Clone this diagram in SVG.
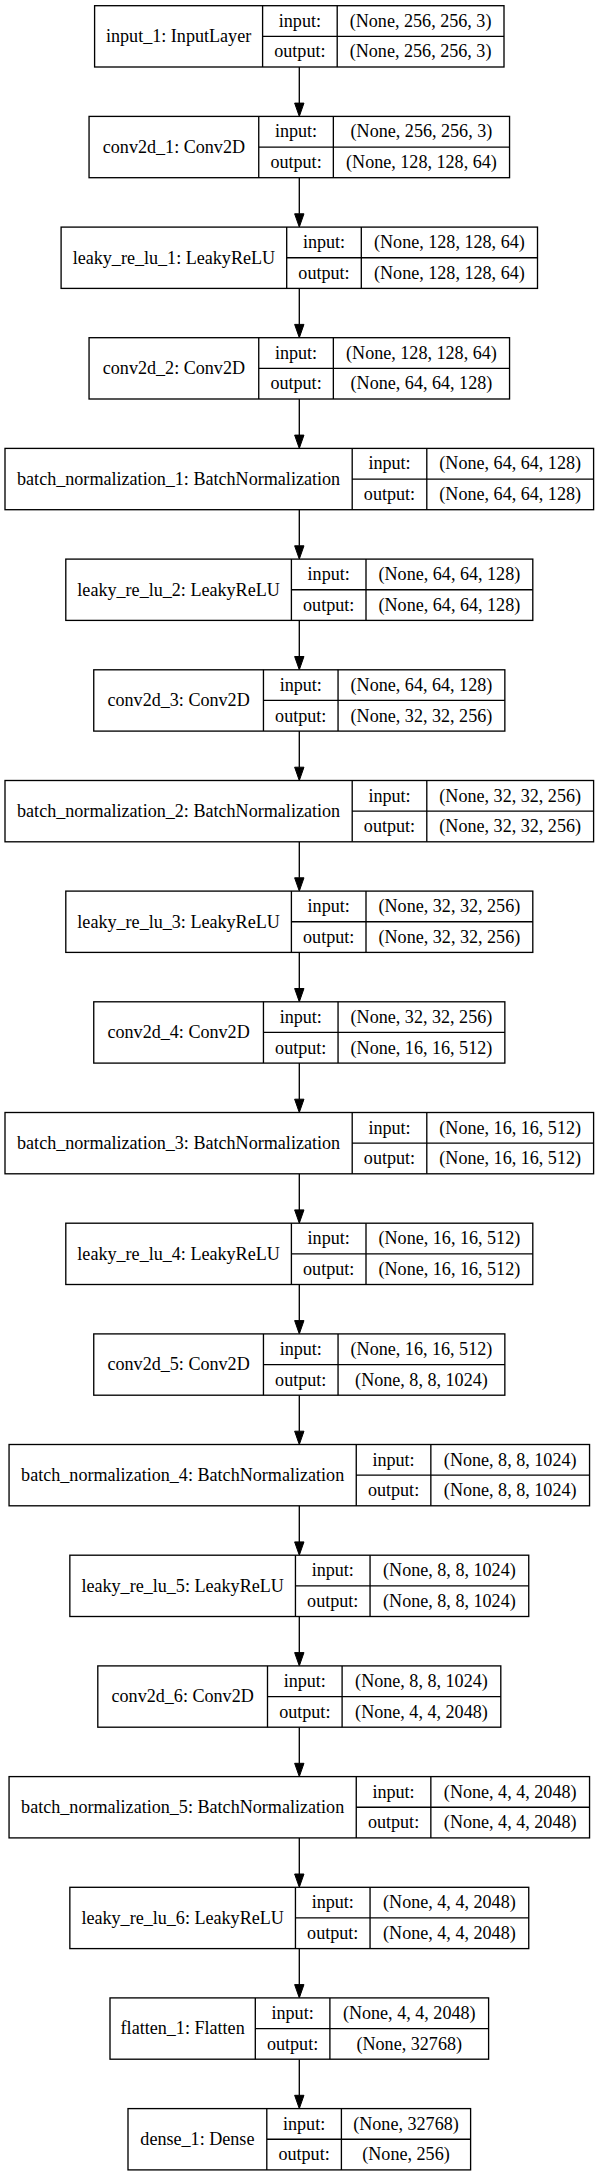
<svg xmlns="http://www.w3.org/2000/svg" width="599" height="2176" viewBox="0 0 599 2176">
<style>
.b{fill:#fff;stroke:#000;stroke-width:1.33}
.d{stroke:#000;stroke-width:1.33;fill:none}
text{font-family:"Liberation Serif","Times New Roman",serif;font-size:18.1px;fill:#000;text-anchor:middle}
.e{stroke:#000;stroke-width:1.33;fill:none;marker-end:url(#ah)}
</style>
<defs>
<marker id="ah" markerUnits="userSpaceOnUse" markerWidth="14" markerHeight="10" refX="0" refY="4.67" orient="auto" overflow="visible">
<path d="M0,0 L13.3,4.67 L0,9.33 Z" fill="#000" stroke="#000" stroke-width="1"/>
</marker>
</defs>
<rect width="599" height="2176" fill="#fff"/>
<g id="connectors">
<line class="e" x1="299.3" y1="67" x2="299.3" y2="103.1"/>
<line class="e" x1="299.3" y1="177.7" x2="299.3" y2="213.8"/>
<line class="e" x1="299.3" y1="288.4" x2="299.3" y2="324.4"/>
<line class="e" x1="299.3" y1="399" x2="299.3" y2="435.1"/>
<line class="e" x1="299.3" y1="509.7" x2="299.3" y2="545.8"/>
<line class="e" x1="299.3" y1="620.4" x2="299.3" y2="656.5"/>
<line class="e" x1="299.3" y1="731.1" x2="299.3" y2="767.2"/>
<line class="e" x1="299.3" y1="841.8" x2="299.3" y2="877.8"/>
<line class="e" x1="299.3" y1="952.4" x2="299.3" y2="988.5"/>
<line class="e" x1="299.3" y1="1063.1" x2="299.3" y2="1099.2"/>
<line class="e" x1="299.3" y1="1173.8" x2="299.3" y2="1209.9"/>
<line class="e" x1="299.3" y1="1284.5" x2="299.3" y2="1320.6"/>
<line class="e" x1="299.3" y1="1395.2" x2="299.3" y2="1431.2"/>
<line class="e" x1="299.3" y1="1505.8" x2="299.3" y2="1541.9"/>
<line class="e" x1="299.3" y1="1616.5" x2="299.3" y2="1652.6"/>
<line class="e" x1="299.3" y1="1727.2" x2="299.3" y2="1763.3"/>
<line class="e" x1="299.3" y1="1837.9" x2="299.3" y2="1874"/>
<line class="e" x1="299.3" y1="1948.6" x2="299.3" y2="1984.6"/>
<line class="e" x1="299.3" y1="2059.2" x2="299.3" y2="2095.3"/>
</g>

<g id="input_1" transform="translate(0,5.7)">
<rect class="b" x="94.6" y="0" width="409.4" height="61.3"/>
<path class="d" d="M262.6,0V61.3M337.2,0V61.3M262.6,30.65H504"/>
<text x="178.6" y="36.5">input_1: InputLayer</text>
<text x="299.9" y="21.1">input:</text><text x="299.9" y="51.8">output:</text>
<text x="420.6" y="21.1">(None, 256, 256, 3)</text><text x="420.6" y="51.8">(None, 256, 256, 3)</text>
</g>

<g id="conv2d_1" transform="translate(0,116.4)">
<rect class="b" x="89.05" y="0" width="420.5" height="61.3"/>
<path class="d" d="M258.75,0V61.3M333.35,0V61.3M258.75,30.65H509.55"/>
<text x="173.9" y="36.5">conv2d_1: Conv2D</text>
<text x="296.05" y="21.1">input:</text><text x="296.05" y="51.8">output:</text>
<text x="421.45" y="21.1">(None, 256, 256, 3)</text><text x="421.45" y="51.8">(None, 128, 128, 64)</text>
</g>

<g id="leaky_re_lu_1" transform="translate(0,227.1)">
<rect class="b" x="61.1" y="0" width="476.4" height="61.3"/>
<path class="d" d="M286.7,0V61.3M361.3,0V61.3M286.7,30.65H537.5"/>
<text x="173.9" y="36.5">leaky_re_lu_1: LeakyReLU</text>
<text x="324" y="21.1">input:</text><text x="324" y="51.8">output:</text>
<text x="449.4" y="21.1">(None, 128, 128, 64)</text><text x="449.4" y="51.8">(None, 128, 128, 64)</text>
</g>

<g id="conv2d_2" transform="translate(0,337.7)">
<rect class="b" x="89.05" y="0" width="420.5" height="61.3"/>
<path class="d" d="M258.75,0V61.3M333.35,0V61.3M258.75,30.65H509.55"/>
<text x="173.9" y="36.5">conv2d_2: Conv2D</text>
<text x="296.05" y="21.1">input:</text><text x="296.05" y="51.8">output:</text>
<text x="421.45" y="21.1">(None, 128, 128, 64)</text><text x="421.45" y="51.8">(None, 64, 64, 128)</text>
</g>

<g id="batch_normalization_1" transform="translate(0,448.4)">
<rect class="b" x="5" y="0" width="588.6" height="61.3"/>
<path class="d" d="M352.2,0V61.3M426.8,0V61.3M352.2,30.65H593.6"/>
<text x="178.6" y="36.5">batch_normalization_1: BatchNormalization</text>
<text x="389.5" y="21.1">input:</text><text x="389.5" y="51.8">output:</text>
<text x="510.2" y="21.1">(None, 64, 64, 128)</text><text x="510.2" y="51.8">(None, 64, 64, 128)</text>
</g>

<g id="leaky_re_lu_2" transform="translate(0,559.1)">
<rect class="b" x="65.8" y="0" width="467" height="61.3"/>
<path class="d" d="M291.4,0V61.3M366,0V61.3M291.4,30.65H532.8"/>
<text x="178.6" y="36.5">leaky_re_lu_2: LeakyReLU</text>
<text x="328.7" y="21.1">input:</text><text x="328.7" y="51.8">output:</text>
<text x="449.4" y="21.1">(None, 64, 64, 128)</text><text x="449.4" y="51.8">(None, 64, 64, 128)</text>
</g>

<g id="conv2d_3" transform="translate(0,669.8)">
<rect class="b" x="93.75" y="0" width="411.1" height="61.3"/>
<path class="d" d="M263.45,0V61.3M338.05,0V61.3M263.45,30.65H504.85"/>
<text x="178.6" y="36.5">conv2d_3: Conv2D</text>
<text x="300.75" y="21.1">input:</text><text x="300.75" y="51.8">output:</text>
<text x="421.45" y="21.1">(None, 64, 64, 128)</text><text x="421.45" y="51.8">(None, 32, 32, 256)</text>
</g>

<g id="batch_normalization_2" transform="translate(0,780.5)">
<rect class="b" x="5" y="0" width="588.6" height="61.3"/>
<path class="d" d="M352.2,0V61.3M426.8,0V61.3M352.2,30.65H593.6"/>
<text x="178.6" y="36.5">batch_normalization_2: BatchNormalization</text>
<text x="389.5" y="21.1">input:</text><text x="389.5" y="51.8">output:</text>
<text x="510.2" y="21.1">(None, 32, 32, 256)</text><text x="510.2" y="51.8">(None, 32, 32, 256)</text>
</g>

<g id="leaky_re_lu_3" transform="translate(0,891.1)">
<rect class="b" x="65.8" y="0" width="467" height="61.3"/>
<path class="d" d="M291.4,0V61.3M366,0V61.3M291.4,30.65H532.8"/>
<text x="178.6" y="36.5">leaky_re_lu_3: LeakyReLU</text>
<text x="328.7" y="21.1">input:</text><text x="328.7" y="51.8">output:</text>
<text x="449.4" y="21.1">(None, 32, 32, 256)</text><text x="449.4" y="51.8">(None, 32, 32, 256)</text>
</g>

<g id="conv2d_4" transform="translate(0,1001.8)">
<rect class="b" x="93.75" y="0" width="411.1" height="61.3"/>
<path class="d" d="M263.45,0V61.3M338.05,0V61.3M263.45,30.65H504.85"/>
<text x="178.6" y="36.5">conv2d_4: Conv2D</text>
<text x="300.75" y="21.1">input:</text><text x="300.75" y="51.8">output:</text>
<text x="421.45" y="21.1">(None, 32, 32, 256)</text><text x="421.45" y="51.8">(None, 16, 16, 512)</text>
</g>

<g id="batch_normalization_3" transform="translate(0,1112.5)">
<rect class="b" x="5" y="0" width="588.6" height="61.3"/>
<path class="d" d="M352.2,0V61.3M426.8,0V61.3M352.2,30.65H593.6"/>
<text x="178.6" y="36.5">batch_normalization_3: BatchNormalization</text>
<text x="389.5" y="21.1">input:</text><text x="389.5" y="51.8">output:</text>
<text x="510.2" y="21.1">(None, 16, 16, 512)</text><text x="510.2" y="51.8">(None, 16, 16, 512)</text>
</g>

<g id="leaky_re_lu_4" transform="translate(0,1223.2)">
<rect class="b" x="65.8" y="0" width="467" height="61.3"/>
<path class="d" d="M291.4,0V61.3M366,0V61.3M291.4,30.65H532.8"/>
<text x="178.6" y="36.5">leaky_re_lu_4: LeakyReLU</text>
<text x="328.7" y="21.1">input:</text><text x="328.7" y="51.8">output:</text>
<text x="449.4" y="21.1">(None, 16, 16, 512)</text><text x="449.4" y="51.8">(None, 16, 16, 512)</text>
</g>

<g id="conv2d_5" transform="translate(0,1333.9)">
<rect class="b" x="93.75" y="0" width="411.1" height="61.3"/>
<path class="d" d="M263.45,0V61.3M338.05,0V61.3M263.45,30.65H504.85"/>
<text x="178.6" y="36.5">conv2d_5: Conv2D</text>
<text x="300.75" y="21.1">input:</text><text x="300.75" y="51.8">output:</text>
<text x="421.45" y="21.1">(None, 16, 16, 512)</text><text x="421.45" y="51.8">(None, 8, 8, 1024)</text>
</g>

<g id="batch_normalization_4" transform="translate(0,1444.5)">
<rect class="b" x="9.05" y="0" width="580.5" height="61.3"/>
<path class="d" d="M356.25,0V61.3M430.85,0V61.3M356.25,30.65H589.55"/>
<text x="182.65" y="36.5">batch_normalization_4: BatchNormalization</text>
<text x="393.55" y="21.1">input:</text><text x="393.55" y="51.8">output:</text>
<text x="510.2" y="21.1">(None, 8, 8, 1024)</text><text x="510.2" y="51.8">(None, 8, 8, 1024)</text>
</g>

<g id="leaky_re_lu_5" transform="translate(0,1555.2)">
<rect class="b" x="69.85" y="0" width="458.9" height="61.3"/>
<path class="d" d="M295.45,0V61.3M370.05,0V61.3M295.45,30.65H528.75"/>
<text x="182.65" y="36.5">leaky_re_lu_5: LeakyReLU</text>
<text x="332.75" y="21.1">input:</text><text x="332.75" y="51.8">output:</text>
<text x="449.4" y="21.1">(None, 8, 8, 1024)</text><text x="449.4" y="51.8">(None, 8, 8, 1024)</text>
</g>

<g id="conv2d_6" transform="translate(0,1665.9)">
<rect class="b" x="97.8" y="0" width="403" height="61.3"/>
<path class="d" d="M267.5,0V61.3M342.1,0V61.3M267.5,30.65H500.8"/>
<text x="182.65" y="36.5">conv2d_6: Conv2D</text>
<text x="304.8" y="21.1">input:</text><text x="304.8" y="51.8">output:</text>
<text x="421.45" y="21.1">(None, 8, 8, 1024)</text><text x="421.45" y="51.8">(None, 4, 4, 2048)</text>
</g>

<g id="batch_normalization_5" transform="translate(0,1776.6)">
<rect class="b" x="9.05" y="0" width="580.5" height="61.3"/>
<path class="d" d="M356.25,0V61.3M430.85,0V61.3M356.25,30.65H589.55"/>
<text x="182.65" y="36.5">batch_normalization_5: BatchNormalization</text>
<text x="393.55" y="21.1">input:</text><text x="393.55" y="51.8">output:</text>
<text x="510.2" y="21.1">(None, 4, 4, 2048)</text><text x="510.2" y="51.8">(None, 4, 4, 2048)</text>
</g>

<g id="leaky_re_lu_6" transform="translate(0,1887.3)">
<rect class="b" x="69.85" y="0" width="458.9" height="61.3"/>
<path class="d" d="M295.45,0V61.3M370.05,0V61.3M295.45,30.65H528.75"/>
<text x="182.65" y="36.5">leaky_re_lu_6: LeakyReLU</text>
<text x="332.75" y="21.1">input:</text><text x="332.75" y="51.8">output:</text>
<text x="449.4" y="21.1">(None, 4, 4, 2048)</text><text x="449.4" y="51.8">(None, 4, 4, 2048)</text>
</g>

<g id="flatten_1" transform="translate(0,1997.9)">
<rect class="b" x="110" y="0" width="378.6" height="61.3"/>
<path class="d" d="M255.3,0V61.3M329.9,0V61.3M255.3,30.65H488.6"/>
<text x="182.65" y="36.5">flatten_1: Flatten</text>
<text x="292.6" y="21.1">input:</text><text x="292.6" y="51.8">output:</text>
<text x="409.25" y="21.1">(None, 4, 4, 2048)</text><text x="409.25" y="51.8">(None, 32768)</text>
</g>

<g id="dense_1" transform="translate(0,2108.6)">
<rect class="b" x="128" y="0" width="342.6" height="61.3"/>
<path class="d" d="M266.8,0V61.3M341.4,0V61.3M266.8,30.65H470.6"/>
<text x="197.4" y="36.5">dense_1: Dense</text>
<text x="304.1" y="21.1">input:</text><text x="304.1" y="51.8">output:</text>
<text x="406" y="21.1">(None, 32768)</text><text x="406" y="51.8">(None, 256)</text>
</g>
</svg>
